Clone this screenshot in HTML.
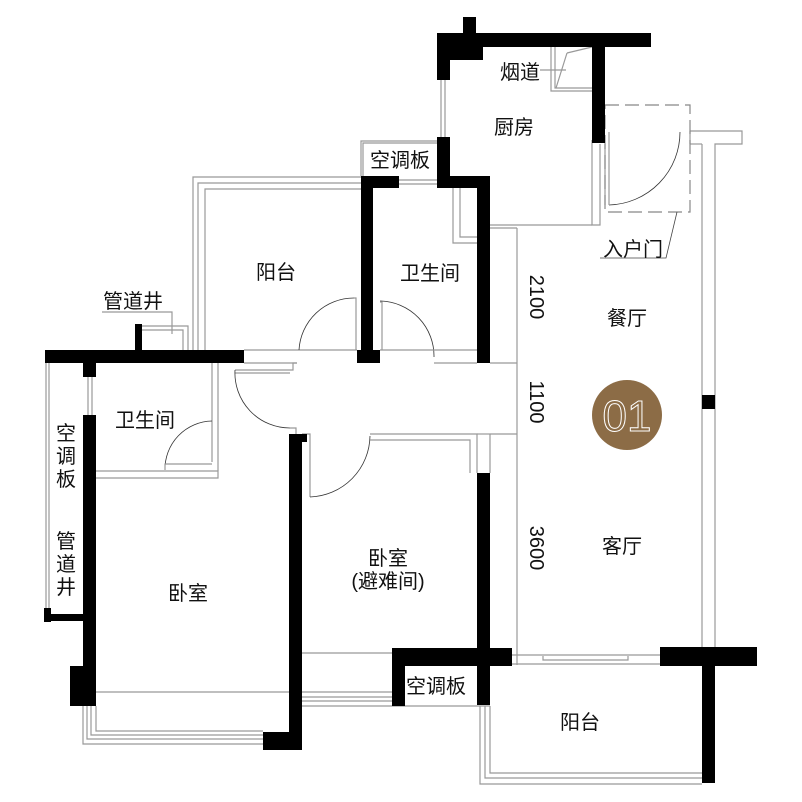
<!DOCTYPE html>
<html><head><meta charset="utf-8"><style>
html,body{margin:0;padding:0;background:#fff}
svg{display:block}
text{font-family:"Liberation Sans","Noto Sans CJK SC",sans-serif;font-size:20px;fill:#111}
</style></head><body>
<svg width="802" height="802" viewBox="0 0 802 802" xmlns="http://www.w3.org/2000/svg">
<g fill="none" stroke="#999" stroke-width="1.2">
<line x1="441" y1="80" x2="441" y2="137"/><line x1="445" y1="80" x2="445" y2="137"/>
<line x1="399" y1="180" x2="437" y2="180"/><line x1="399" y1="184" x2="437" y2="184"/>
<polyline points="361,176 361,141 437,141"/><polyline points="363,176 363,143 437,143"/>
<polyline points="193,350 193,177 361,177"/><polyline points="198,350 198,183 361,183"/><polyline points="205,350 205,189 361,189"/>
<polyline points="551,47 551,91 592,91"/><polyline points="555,47 555,88 592,88"/>
<polyline points="567,53 592,47"/><polyline points="567,53 556,88"/>
<line x1="540" y1="70" x2="566" y2="70"/>
<polyline points="453,188 453,243 477,243"/><polyline points="460,188 460,237 477,237"/>
<line x1="490" y1="225" x2="592" y2="225"/>
<line x1="490" y1="228" x2="517" y2="228"/>
<polyline points="592,140 592,225 600,225 600,144"/>
<polyline points="605,144 605,205"/>
<polyline points="690,131 742,131 742,144 715,144 715,648"/>
<line x1="702" y1="144" x2="702" y2="648"/>
<line x1="690" y1="131" x2="690" y2="144"/><line x1="690" y1="144" x2="702" y2="144"/>
<line x1="517" y1="228" x2="517" y2="665"/>
<line x1="490" y1="363" x2="517" y2="363"/>
<line x1="490" y1="434" x2="517" y2="434"/>
<polyline points="141,326 188,326 188,350"/><polyline points="141,330 183,330 183,350"/>
<polyline points="102,312 172,312 172,334"/>
<line x1="244" y1="350" x2="357" y2="350"/>
<line x1="244" y1="363" x2="297" y2="363"/>
<polyline points="235,370 293,370 293,363 297,363"/>
<polyline points="235,373 290,373"/>
<path d="M299,350 A55,55 0 0 1 354,298" stroke="#333" stroke-width="0.8"/>
<polyline points="354,298 356,298 356,350"/>
<path d="M235,370 A55,55 0 0 0 290,428" stroke="#333" stroke-width="0.8"/>
<polyline points="290,428 296,428 296,434"/>
<path d="M380,301 A55,55 0 0 1 434,357" stroke="#333" stroke-width="0.8"/>
<polyline points="380,302 382,302 382,350"/>
<line x1="380" y1="350" x2="477" y2="350"/>
<line x1="434" y1="363" x2="477" y2="363"/>
<path d="M609,205 A73,73 0 0 0 680,132" stroke="#333" stroke-width="0.8"/>
<polyline points="609,205 609,132" />
<rect x="605" y="105" width="85" height="107" stroke="#888" stroke-dasharray="14,6"/>
<polyline points="677,212 666,258 600,258" stroke="#444" stroke-width="0.8"/>
<line x1="46" y1="363" x2="46" y2="612"/><line x1="49" y1="363" x2="49" y2="612"/>
<line x1="88" y1="377" x2="88" y2="415"/><line x1="92" y1="377" x2="92" y2="415"/>
<polyline points="96,471 218,471 218,478 96,478"/>
<polyline points="212,363 212,462"/><polyline points="218,363 218,471"/>
<path d="M165,470 A48,48 0 0 1 212,421" stroke="#333" stroke-width="0.8"/>
<polyline points="165,470 165,464 212,464"/>
<line x1="96" y1="692" x2="289" y2="692"/>
<polyline points="83,706 83,744 263,744"/><polyline points="87,706 87,739 263,739"/>
<polyline points="91,706 91,735 263,735"/><polyline points="96,706 96,731 263,731"/>
<polyline points="302,434 310,434 310,497"/>
<path d="M310,497 A62,62 0 0 0 370,436" stroke="#333" stroke-width="0.8"/>
<polyline points="370,434 477,434 477,473"/>
<polyline points="370,440 470,440 470,473"/><line x1="477" y1="434" x2="490" y2="434"/><line x1="490" y1="434" x2="490" y2="473"/>
<line x1="302" y1="653" x2="392" y2="653"/>
<line x1="302" y1="692" x2="392" y2="692"/><line x1="302" y1="697" x2="392" y2="697"/>
<line x1="302" y1="701" x2="392" y2="701"/><line x1="302" y1="706" x2="490" y2="706"/>
<line x1="512" y1="655" x2="660" y2="655"/><line x1="512" y1="664" x2="660" y2="664"/>
<polyline points="543,656 543,660 628,660 628,656"/>
<polyline points="480,706 480,784 702,784"/><polyline points="485,706 485,778 702,778"/><polyline points="490,706 490,773 702,773"/>
</g>
<g fill="#000">
<rect x="463" y="17" width="13" height="18"/>
<rect x="437" y="33" width="214" height="14"/>
<rect x="437" y="33" width="46" height="27"/>
<rect x="437" y="33" width="13" height="47"/>
<rect x="437" y="137" width="13" height="41"/>
<rect x="592" y="47" width="13" height="96"/>
<rect x="361" y="176" width="38" height="12"/>
<rect x="437" y="176" width="53" height="12"/>
<rect x="361" y="176" width="12" height="187"/>
<rect x="357" y="350" width="23" height="13"/>
<rect x="477" y="176" width="13" height="187"/>
<rect x="45" y="350" width="199" height="13"/>
<rect x="135" y="324" width="7" height="27"/>
<rect x="83" y="350" width="13" height="27"/>
<rect x="83" y="415" width="13" height="252"/>
<rect x="70" y="666" width="26" height="40"/>
<rect x="44" y="608" width="7" height="14"/>
<rect x="44" y="614" width="39" height="7"/>
<rect x="289" y="434" width="13" height="316"/>
<rect x="289" y="434" width="18" height="8"/>
<rect x="263" y="732" width="39" height="18"/>
<rect x="477" y="473" width="13" height="190"/>
<rect x="392" y="648" width="120" height="18"/>
<rect x="392" y="648" width="13" height="57"/>
<rect x="392" y="698" width="13" height="8"/>
<rect x="477" y="660" width="13" height="45"/>
<rect x="660" y="647" width="97" height="19"/>
<rect x="702" y="666" width="13" height="117"/>
<rect x="702" y="395" width="13" height="14"/>
</g>
<circle cx="627" cy="415" r="35" fill="#8C6C46"/>
<text x="627" y="431" text-anchor="middle" style="font-size:44px;fill:none;stroke:#fff;stroke-width:1;font-weight:100">01</text>
<text x="520" y="79" text-anchor="middle">烟道</text>
<text x="514" y="134" text-anchor="middle">厨房</text>
<text x="400" y="167" text-anchor="middle">空调板</text>
<text x="430" y="280" text-anchor="middle">卫生间</text>
<text x="276" y="279" text-anchor="middle">阳台</text>
<text x="133" y="308" text-anchor="middle">管道井</text>
<text x="633" y="256" text-anchor="middle">入户门</text>
<text x="627" y="325" text-anchor="middle">餐厅</text>
<text x="622" y="553" text-anchor="middle">客厅</text>
<text x="145" y="427" text-anchor="middle">卫生间</text>
<text x="188" y="600" text-anchor="middle">卧室</text>
<text x="388" y="565" text-anchor="middle">卧室</text>
<text x="388" y="588" text-anchor="middle">(避难间)</text>
<text x="436" y="693" text-anchor="middle">空调板</text>
<text x="580" y="729" text-anchor="middle">阳台</text>
<text x="66" y="440" text-anchor="middle">空</text>
<text x="66" y="463" text-anchor="middle">调</text>
<text x="66" y="486" text-anchor="middle">板</text>
<text x="66" y="548" text-anchor="middle">管</text>
<text x="66" y="571" text-anchor="middle">道</text>
<text x="66" y="594" text-anchor="middle">井</text>
<text transform="translate(530,297) rotate(90)" text-anchor="middle" style="font-size:20px">2100</text>
<text transform="translate(530,402) rotate(90)" text-anchor="middle" style="font-size:20px">1100</text>
<text transform="translate(530,548) rotate(90)" text-anchor="middle" style="font-size:20px">3600</text>
</svg>
</body></html>
